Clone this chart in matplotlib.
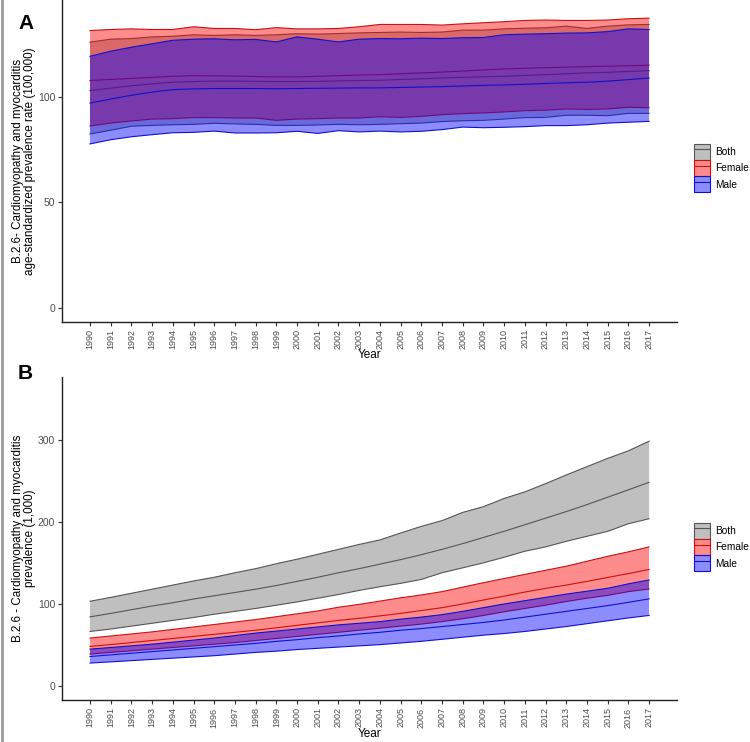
"""Cardiomyopathy and myocarditis prevalence, 1990-2017, by sex (panels A and B)."""
import matplotlib
matplotlib.use("Agg")
import matplotlib.pyplot as plt
from matplotlib.lines import Line2D
from matplotlib.patches import Patch

plt.rcParams["font.family"] = ["Liberation Sans", "DejaVu Sans"]

years = list(range(1990, 2018))
groups = ["Both", "Female", "Male"]

# panel A: age-standardized prevalence rate (per 100,000)
a_both_lo = [82.4, 84.2, 86.1, 86.5, 86.8, 87.0, 87.5, 87.2, 87.0, 86.5, 86.5, 86.7, 87.0, 86.8,
             87.0, 87.3, 87.6, 88.3, 88.7, 88.9, 89.5, 90.2, 90.3, 91.3, 91.3, 91.1, 92.2, 92.2]
a_both_mid = [103.0, 104.2, 105.3, 106.2, 107.0, 107.3, 107.5, 107.5, 107.4, 107.3, 107.3, 107.4, 107.6, 107.8,
              107.9, 108.3, 108.6, 109.0, 109.3, 109.6, 109.8, 110.2, 110.6, 111.0, 111.4, 111.7, 112.1, 112.5]
a_both_hi = [126.0, 127.4, 127.7, 128.5, 128.8, 129.5, 129.2, 129.5, 129.2, 129.5, 130.0, 129.8, 130.1, 130.4,
             130.6, 130.8, 130.6, 130.8, 131.7, 131.7, 132.3, 132.6, 132.8, 133.6, 132.5, 133.6, 134.2, 134.4]
a_fem_lo = [86.2, 87.6, 88.6, 89.5, 89.7, 90.2, 90.2, 90.0, 90.0, 88.9, 89.5, 89.7, 90.0, 90.0,
            90.6, 90.3, 90.8, 91.6, 92.1, 92.4, 92.9, 93.5, 93.7, 94.3, 94.1, 94.3, 95.1, 94.9]
a_fem_mid = [107.8, 108.3, 108.8, 109.3, 109.8, 110.1, 110.0, 109.9, 109.7, 109.5, 109.5, 109.8, 110.1, 110.4,
             110.6, 111.0, 111.4, 111.8, 112.3, 112.8, 113.3, 113.6, 113.9, 114.1, 114.4, 114.6, 114.8, 115.1]
a_fem_hi = [131.5, 132.0, 132.3, 132.0, 132.0, 133.3, 132.5, 132.5, 131.9, 132.9, 132.3, 132.3, 132.5, 133.3,
            134.4, 134.4, 134.4, 134.1, 134.7, 135.2, 135.7, 136.3, 136.5, 136.3, 136.3, 136.5, 137.1, 137.4]
a_male_lo = [77.7, 79.7, 81.1, 82.1, 83.0, 83.2, 83.8, 82.9, 82.9, 83.0, 83.7, 82.7, 84.0, 83.4,
             83.8, 83.4, 83.7, 84.5, 85.7, 85.4, 85.6, 85.9, 86.4, 86.4, 86.8, 87.6, 88.0, 88.4]
a_male_mid = [97.1, 99.0, 100.8, 102.3, 103.5, 103.8, 104.0, 104.0, 104.0, 103.9, 104.0, 104.1, 104.2, 104.3,
              104.3, 104.5, 104.7, 104.9, 105.2, 105.5, 105.7, 106.0, 106.4, 106.7, 107.0, 107.5, 108.2, 109.0]
a_male_hi = [119.3, 121.7, 123.6, 125.2, 126.9, 127.4, 127.6, 127.1, 127.3, 126.1, 128.5, 127.4, 126.1, 127.4,
             127.7, 127.6, 127.9, 127.7, 128.1, 128.2, 129.5, 129.8, 130.0, 130.3, 130.4, 131.0, 132.3, 132.0]

# panel B: prevalence (thousands)
b_both_lo = [67.0, 70.0, 73.5, 77.0, 80.5, 84.0, 88.0, 91.5, 95.0, 99.0, 103.0, 107.5, 112.0, 117.0,
             121.5, 125.6, 130.4, 138.5, 144.5, 150.6, 157.4, 164.7, 170.0, 176.8, 182.9, 188.9, 198.2, 204.3]
b_both_mid = [84.8, 89.0, 93.5, 98.0, 102.0, 106.5, 110.5, 114.5, 118.5, 123.0, 128.0, 133.0, 138.5, 143.5,
              149.0, 154.5, 160.5, 167.0, 174.0, 181.5, 189.0, 197.0, 205.0, 213.0, 221.5, 230.5, 239.5, 248.7]
b_both_hi = [103.8, 108.5, 113.5, 118.5, 123.5, 128.5, 133.0, 138.5, 143.5, 149.5, 155.0, 161.0, 167.0, 173.0,
             178.5, 186.9, 195.0, 202.0, 212.0, 219.0, 229.0, 237.0, 247.0, 257.6, 267.7, 277.8, 287.0, 298.7]
b_fem_lo = [39.5, 41.5, 43.5, 45.5, 47.5, 49.5, 51.5, 53.5, 56.0, 58.5, 61.0, 63.5, 66.0, 68.5,
            71.0, 73.5, 76.0, 79.0, 82.5, 86.5, 91.0, 95.0, 99.0, 103.5, 107.5, 111.0, 115.5, 118.8]
b_fem_mid = [48.8, 51.0, 53.5, 56.0, 58.5, 61.0, 63.5, 66.0, 68.5, 71.5, 74.5, 77.5, 80.5, 83.0,
             86.0, 89.0, 92.5, 96.0, 100.5, 105.3, 110.0, 115.0, 119.5, 123.5, 128.0, 132.8, 137.5, 142.5]
b_fem_hi = [59.0, 61.5, 64.0, 66.5, 69.5, 72.5, 75.5, 78.5, 81.5, 85.0, 88.5, 92.0, 96.5, 100.0,
            104.0, 108.0, 111.5, 115.5, 121.0, 126.4, 131.5, 136.5, 141.5, 146.5, 152.5, 158.5, 164.0, 170.0]
b_male_lo = [28.5, 30.0, 31.5, 33.0, 34.5, 36.0, 37.5, 39.5, 41.5, 43.0, 45.0, 46.5, 48.0, 49.5,
             51.0, 53.0, 55.0, 57.5, 60.0, 62.5, 64.5, 67.0, 70.0, 73.0, 76.5, 80.0, 83.5, 86.5]
b_male_mid = [36.5, 38.5, 40.5, 42.5, 44.5, 46.5, 48.5, 50.5, 52.5, 55.0, 57.0, 59.5, 61.5, 64.0,
              66.0, 68.5, 70.5, 73.0, 75.5, 78.0, 81.0, 84.5, 88.0, 91.5, 95.0, 98.5, 102.5, 106.7]
b_male_hi = [45.5, 47.5, 49.5, 51.5, 54.0, 56.5, 59.0, 62.0, 65.0, 67.5, 70.0, 72.5, 75.0, 77.0,
             79.0, 82.0, 84.5, 87.5, 91.5, 96.0, 100.5, 104.5, 108.5, 112.5, 116.0, 119.6, 125.0, 129.7]

FILL = {"Both": ("#808080", 0.5), "Female": ("#FF0000", 0.45), "Male": ("#0000FF", 0.45)}
LINE = {"Both": "#555555", "Female": "#CC1010", "Male": "#1010CC"}


def draw_panel(ax, bands, ylim, yticks, ylabel):
    for k, g in enumerate(groups):
        lo, mid, hi = bands[g]
        fc, al = FILL[g]
        ax.fill_between(years, lo, hi, facecolor=fc, alpha=al, lw=0, zorder=2 + 2 * k)
        for s in (lo, mid, hi):
            ax.plot(years, s, color=LINE[g], lw=0.8, zorder=2.5 + 2 * k)
    ax.set_xlim(1988.65, 2018.35)
    ax.set_ylim(*ylim)
    ax.set_xticks(years)
    ax.set_xticklabels([str(y) for y in years], rotation=90, fontsize=6.5, color="#4d4d4d")
    ax.set_yticks(yticks)
    ax.set_yticklabels([str(t) for t in yticks], fontsize=7.5, color="#4d4d4d")
    ax.tick_params(length=3, width=0.8, color="#333333", pad=2)
    for side in ("top", "right"):
        ax.spines[side].set_visible(False)
    for side in ("left", "bottom"):
        ax.spines[side].set_linewidth(1.0)
        ax.spines[side].set_color("#222222")
    ax.set_xlabel("Year", fontsize=8.5, labelpad=0)
    ax.set_ylabel(ylabel, fontsize=8.4, labelpad=1.5, linespacing=1.0)


def legend_handles():
    hs = []
    for g in groups:
        fc, al = FILL[g]
        p = Patch(facecolor=matplotlib.colors.to_rgba(fc, al), edgecolor=LINE[g], lw=0.8)
        ln = Line2D([], [], color=LINE[g], lw=0.8)
        hs.append((p, ln))
    return hs


fig = plt.figure(figsize=(7.5, 7.42), dpi=100)
axA = fig.add_axes([0.0827, 0.566, 0.82, 0.434])
axB = fig.add_axes([0.0827, 0.056, 0.82, 0.436])

draw_panel(axA, {"Both": (a_both_lo, a_both_mid, a_both_hi),
                 "Female": (a_fem_lo, a_fem_mid, a_fem_hi),
                 "Male": (a_male_lo, a_male_mid, a_male_hi)},
           (-6.8, 146), [0, 50, 100],
           "B.2.6- Cardiomyopathy and myocarditis\nage-standardized prevalence rate (100,000)")
draw_panel(axB, {"Both": (b_both_lo, b_both_mid, b_both_hi),
                 "Female": (b_fem_lo, b_fem_mid, b_fem_hi),
                 "Male": (b_male_lo, b_male_mid, b_male_hi)},
           (-17, 377), [0, 100, 200, 300],
           "B.2.6 - Cardiomyopathy and myocarditis\nprevalence (1,000)")

for yc in (0.7736, 0.2628):
    fig.legend(legend_handles(), groups, loc="center left", bbox_to_anchor=(0.918, yc),
               frameon=False, fontsize=7.3, handlelength=1.6, handleheight=2.1,
               handletextpad=0.5, labelspacing=0.0, borderpad=0)

fig.text(0.024, 0.968, "A", fontsize=15, fontweight="bold", va="center", ha="left")
fig.text(0.024, 0.497, "B", fontsize=15, fontweight="bold", va="center", ha="left")
fig.add_artist(Line2D([0.002, 0.002], [0, 1], transform=fig.transFigure, color="#9a9a9a", lw=2))

fig.savefig("out.png", dpi=100)
